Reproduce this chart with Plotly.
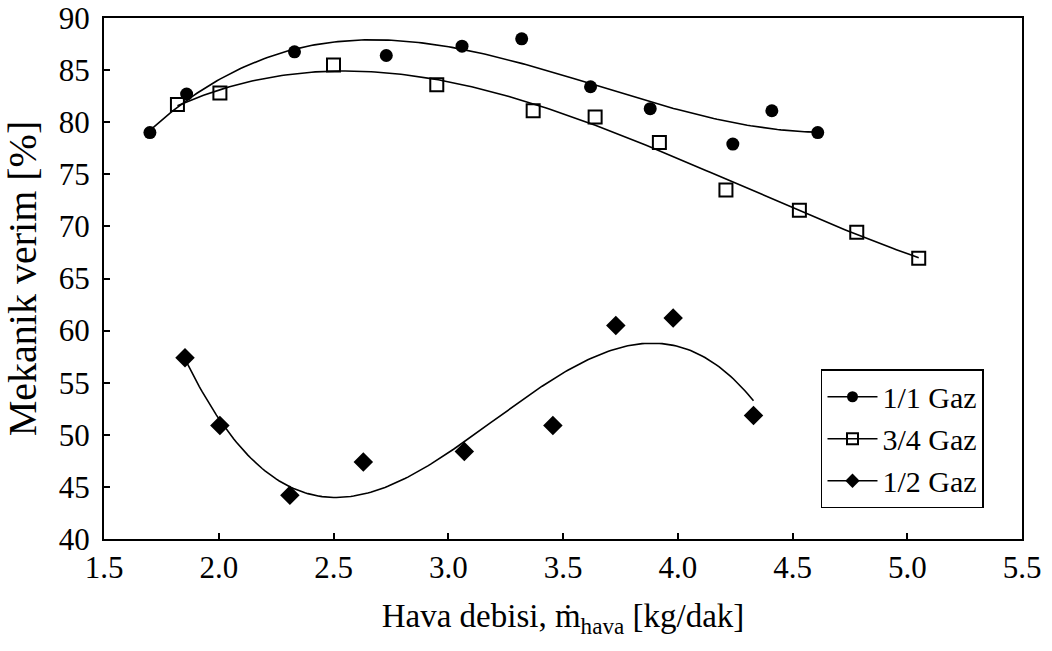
import numpy as np
import plotly.graph_objects as go

# 1/1 Gaz
x_11 = [1.70, 1.86, 2.33, 2.73, 3.06, 3.32, 3.62, 3.88, 4.24, 4.41, 4.61]
y_11 = [79.0, 82.7, 86.75, 86.4, 87.3, 88.0, 83.4, 81.3, 77.9, 81.1, 79.0]
# 3/4 Gaz
x_34 = [1.82, 2.005, 2.50, 2.95, 3.37, 3.64, 3.92, 4.21, 4.53, 4.78, 5.05]
y_34 = [81.7, 82.8, 85.5, 83.6, 81.1, 80.5, 78.05, 73.5, 71.55, 69.45, 66.95]
# 1/2 Gaz
x_12 = [1.853, 2.005, 2.31, 2.63, 3.07, 3.456, 3.73, 3.98, 4.33]
y_12 = [57.4, 50.9, 44.2, 47.4, 48.4, 50.9, 60.5, 61.2, 51.85]

series_names = ["1/1 Gaz", "3/4 Gaz", "1/2 Gaz"]
x_ticks = [1.5, 2.0, 2.5, 3.0, 3.5, 4.0, 4.5, 5.0, 5.5]
y_ticks = [40, 45, 50, 55, 60, 65, 70, 75, 80, 85, 90]

FONT = "Liberation Serif, Times New Roman, Times, serif"
series = [
    (x_11, y_11, dict(symbol="circle", size=13, color="black")),
    (x_34, y_34, dict(symbol="square-open", size=13, color="black", line=dict(width=2, color="black"))),
    (x_12, y_12, dict(symbol="diamond", size=15, color="black")),
]

fig = go.Figure()
for name, (xs, ys, mk) in zip(series_names, series):
    c = np.polyfit(xs, ys, 3)
    xf = np.linspace(min(xs), max(xs), 200)
    fig.add_trace(go.Scatter(x=xf, y=np.polyval(c, xf), mode="lines",
                             line=dict(color="black", width=1.6), showlegend=False, hoverinfo="skip"))
    fig.add_trace(go.Scatter(x=xs, y=ys, mode="markers", marker=mk, showlegend=False, name=name))
for name, (xs, ys, mk) in zip(series_names, series):
    lm = dict(mk)
    lm["size"] = 11
    fig.add_trace(go.Scatter(x=[None], y=[None], mode="lines+markers", name=name,
                             line=dict(color="black", width=1.5), marker=lm))

axis_common = dict(showline=True, linecolor="black", linewidth=2, mirror=True,
                   ticks="inside", ticklen=6, tickwidth=1.5, tickcolor="black",
                   showgrid=False, zeroline=False, ticklabeloverflow="allow",
                   automargin=False,
                   tickfont=dict(family=FONT, size=31, color="black"))
fig.update_xaxes(range=[1.5, 5.5], tickvals=x_ticks, ticktext=[f"{v:.1f}" for v in x_ticks],
                 title=dict(text="Hava debisi, ṁ<sub>hava</sub> [kg/dak]",
                            font=dict(family=FONT, size=33, color="black"), standoff=20),
                 **axis_common)
fig.update_yaxes(range=[40, 90], tickvals=y_ticks,
                 title=dict(text="Mekanik verim [%]", font=dict(family=FONT, size=40, color="black"),
                            standoff=12),
                 ticklabelstandoff=6,
                 **axis_common)
fig.update_layout(
    width=1052, height=651,
    margin=dict(l=104, r=30, t=18, b=112),
    plot_bgcolor="white", paper_bgcolor="white",
    font=dict(family=FONT, color="black"),
    legend=dict(x=0.9586, y=0.059, xanchor="right", yanchor="bottom",
                bordercolor="black", borderwidth=1.5, bgcolor="white",
                font=dict(family=FONT, size=30, color="black"),
                itemwidth=50, tracegroupgap=0),
)
fig.write_html("out.html")
